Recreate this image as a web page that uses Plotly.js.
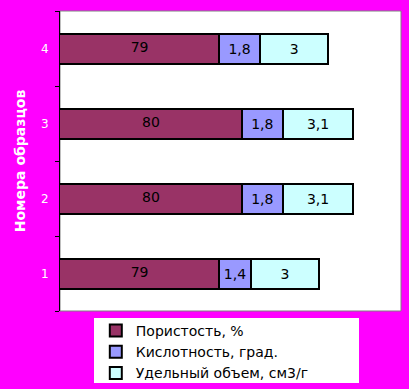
<!DOCTYPE html>
<html>
<head>
<meta charset="utf-8">
<script src="https://cdn.plot.ly/plotly-3.0.1.min.js"></script>
<style>html,body{margin:0;padding:0;background:#FF00FF;}#chart{width:409px;height:389px;}</style>
</head>
<body>
<div id="chart"></div>
<script>
const categories = ['1', '2', '3', '4'];
const seriesNames = ['Пористость, %', 'Кислотность, град.', 'Удельный объем, см3/г'];
const porosity = [79, 80, 80, 79];
const acidity = [1.4, 1.8, 1.8, 1.8];
const volume = [3, 3.1, 3.1, 3];
const colors = ['#993366', '#9999FF', '#CCFFFF'];
const xRange = [72, 87];

const fmt = v => String(v).replace('.', ',');
const FONT = 'DejaVu Sans, Arial, sans-serif';

const series = [porosity, acidity, volume];
const traces = series.map((vals, i) => ({
  type: 'bar',
  orientation: 'h',
  name: seriesNames[i],
  y: categories,
  x: vals,
  text: vals.map(fmt),
  textposition: i === 0 ? 'none' : 'inside',
  insidetextanchor: 'middle',
  textangle: 0,
  constraintext: 'none',
  textfont: {family: FONT, size: 14, color: '#000000'},
  marker: {color: colors[i], line: {color: '#000000', width: 2}},
  hoverinfo: 'none'
}));

// label of the first segment, centred in its visible part (bar is cut by the axis start)
traces.push({
  type: 'scatter', mode: 'text', showlegend: false, hoverinfo: 'none',
  y: categories,
  x: porosity.map(v => (xRange[0] + v) / 2),
  text: porosity.map(fmt),
  textposition: 'middle center',
  textfont: {family: FONT, size: 14, color: '#000000'}
});

const layout = {
  width: 409, height: 389,
  margin: {l: 60, r: 8, t: 11, b: 78, pad: 0, autoexpand: false},
  paper_bgcolor: '#FF00FF',
  plot_bgcolor: '#FFFFFF',
  barmode: 'stack',
  bargap: 0.6,
  showlegend: true,
  font: {family: FONT, size: 13, color: '#000000'},
  xaxis: {
    range: xRange, showticklabels: false, ticks: '', showgrid: false,
    zeroline: false, showline: false, fixedrange: true
  },
  yaxis: {
    type: 'category', categoryorder: 'array', categoryarray: categories,
    showgrid: false, zeroline: false, showline: true, linecolor: '#000000', linewidth: 1,
    ticks: 'outside', ticklen: 4, tickcolor: '#000000', tickson: 'boundaries',
    ticklabelstandoff: 8,
    tickfont: {family: FONT, size: 12, color: '#FFFFFF'},
    title: {text: 'Номера образцов', standoff: 12,
            font: {family: FONT, size: 14, color: '#FFFFFF', weight: 'bold'}}
  },
  legend: {
    x: 0.105, xanchor: 'left', y: -0.013, yanchor: 'top',
    orientation: 'v', traceorder: 'normal',
    bgcolor: 'rgba(0,0,0,0)', borderwidth: 0,
    font: {family: FONT, size: 14, color: '#000000'}
  },
  shapes: [
    {type: 'rect', xref: 'paper', yref: 'paper', x0: 0, x1: 1, y0: 0, y1: 1,
     line: {color: '#808080', width: 1}, layer: 'below'},
    {type: 'rect', xref: 'paper', yref: 'paper', x0: 34/341, x1: 299/341, y0: -7/300, y1: -72/300,
     fillcolor: '#FFFFFF', line: {width: 0}, layer: 'below'}
  ]
};

Plotly.newPlot('chart', traces, layout, {staticPlot: true, displayModeBar: false});
</script>
</body>
</html>
